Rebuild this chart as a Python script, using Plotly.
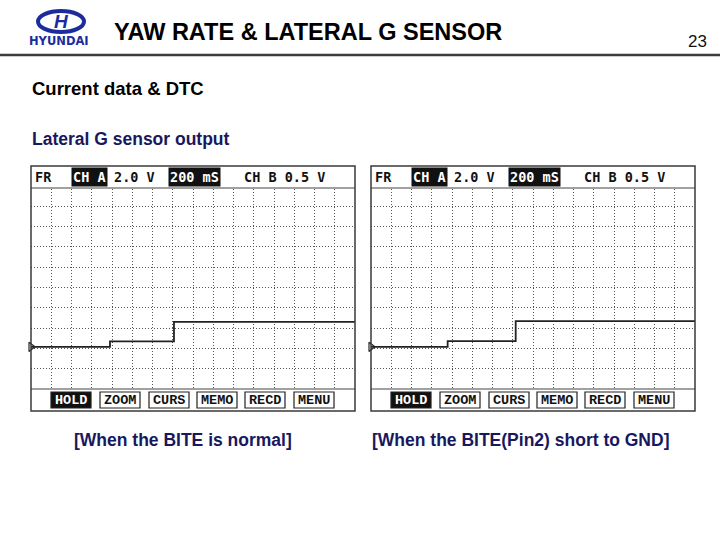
import plotly.graph_objects as go

W, H = 720, 540

# ---------------- data ----------------
# time in ms (200 mS/div, 16 div), voltage in V (2.0 V/div) relative to the channel-zero marker
normal_t = [0, 780, 1412, 3200]
normal_v = [0.0, 0.53, 2.46, 2.46]
short_t = [0, 757, 1429, 3200]
short_v = [0.0, 0.55, 2.52, 2.52]
captions = ["[When the BITE is normal]", "[When the BITE(Pin2) short to GND]"]
buttons = ["HOLD", "ZOOM", "CURS", "MEMO", "RECD", "MENU"]
header_items = [("FR", False), ("CH A", True), ("2.0 V", False), ("200 mS", True), ("CH B 0.5 V", False)]

NAVY = "#18185e"
LOGO = "#1c2c9c"


def px(x):
    return x / W


def py(y):
    return 1 - y / H


fig = go.Figure()

panels = [
    dict(x0=31, t=normal_t, v=normal_v, cap=captions[0], capx=182.5),
    dict(x0=371, t=short_t, v=short_v, cap=captions[1], capx=520),
]

shapes = []
annotations = []

GRID_TOP, GRID_BOT = 186, 389
for i, p in enumerate(panels):
    x0 = p["x0"]
    x1 = x0 + 324
    xa = "x" if i == 0 else "x2"
    ya = "y" if i == 0 else "y2"
    fig.add_trace(go.Scatter(
        x=p["t"], y=p["v"], mode="lines", line=dict(color="#222", width=1.8, shape="hv"),
        xaxis=xa, yaxis=ya, showlegend=False, hoverinfo="skip"))
    fig.add_trace(go.Scatter(
        x=[p["t"][0]], y=[p["v"][0]], mode="markers",
        marker=dict(symbol="triangle-right-open", size=8, color="#262626", line=dict(width=1.2)),
        xaxis=xa, yaxis=ya, showlegend=False, hoverinfo="skip", cliponaxis=False))
    axkw = dict(showticklabels=False, ticks="", zeroline=False, showline=False,
                showgrid=True, gridcolor="#555555", gridwidth=1, griddash="1px,2px", fixedrange=True)
    fig.update_layout(**{
        ("xaxis" if i == 0 else "xaxis2"): dict(domain=[px(x0), px(x1)], range=[0, 3200], tickmode="linear",
                                                tick0=0, dtick=200, anchor=ya, **axkw),
        ("yaxis" if i == 0 else "yaxis2"): dict(domain=[py(GRID_BOT), py(GRID_TOP)], range=[-4.16, 15.84],
                                                tickmode="linear", tick0=-0.16, dtick=2, anchor=xa, **axkw),
    })
    # header band (white, covers top of grid)
    shapes.append(dict(type="rect", xref="paper", yref="paper", x0=px(x0), x1=px(x1), y0=py(188), y1=py(166),
                       fillcolor="white", line=dict(width=0), layer="above"))
    shapes.append(dict(type="line", xref="paper", yref="paper", x0=px(x0), x1=px(x1), y0=py(188), y1=py(188),
                       line=dict(color="#444", width=1.2), layer="above"))
    # footer band
    shapes.append(dict(type="rect", xref="paper", yref="paper", x0=px(x0), x1=px(x1), y0=py(411), y1=py(389),
                       fillcolor="white", line=dict(width=0), layer="above"))
    shapes.append(dict(type="line", xref="paper", yref="paper", x0=px(x0), x1=px(x1), y0=py(389), y1=py(389),
                       line=dict(color="#444", width=1.2), layer="above"))
    # outer border
    shapes.append(dict(type="rect", xref="paper", yref="paper", x0=px(x0), x1=px(x1), y0=py(411), y1=py(166),
                       line=dict(color="#3a3a3a", width=1.5), layer="above"))
    # header texts
    hx = [33, 71, 112, 168, 242]
    for (txt, inv), xx in zip(header_items, hx):
        annotations.append(dict(text=txt, x=px(x0 - 31 + xx), y=py(177), xref="paper", yref="paper",
                                xanchor="left", yanchor="middle", showarrow=False,
                                font=dict(family="DejaVu Sans Mono", size=13.5, color="white" if inv else "#111",
                                          weight="bold"),
                                bgcolor="#111" if inv else None, borderpad=1))
    # buttons
    bx = [51, 100, 149, 197, 245, 294]
    for j, (b, bl) in enumerate(zip(buttons, bx)):
        bl2 = x0 - 31 + bl
        inv = j == 0
        shapes.append(dict(type="rect", xref="paper", yref="paper", x0=px(bl2), x1=px(bl2 + 40),
                           y0=py(408), y1=py(392), fillcolor="#111" if inv else "white",
                           line=dict(color="#222", width=1.2), layer="above"))
        annotations.append(dict(text=b, x=px(bl2 + 20), y=py(400), xref="paper", yref="paper",
                                xanchor="center", yanchor="middle", showarrow=False,
                                font=dict(family="Liberation Mono", size=13.5, color="white" if inv else "#111",
                                          weight="bold")))
    # caption
    annotations.append(dict(text=p["cap"], x=px(p["capx"]), y=py(440), xref="paper", yref="paper",
                            xanchor="center", yanchor="middle", showarrow=False,
                            font=dict(family="Liberation Sans", size=17.5, color=NAVY, weight="bold")))

# page header
shapes.append(dict(type="line", xref="paper", yref="paper", x0=0, x1=1, y0=py(55), y1=py(55),
                   line=dict(color="#3c3c3c", width=2.5)))
shapes.append(dict(type="circle", xref="paper", yref="paper", x0=px(38), x1=px(84), y0=py(32), y1=py(11),
                   line=dict(color=LOGO, width=4), fillcolor="white"))
annotations += [
    dict(text="<i><b>H</b></i>", x=px(61), y=py(21.5), xref="paper", yref="paper", showarrow=False,
         xanchor="center", yanchor="middle", font=dict(family="Liberation Sans", size=19, color=LOGO)),
    dict(text="HYUNDAI", x=px(58.5), y=py(41.5), xref="paper", yref="paper", showarrow=False,
         xanchor="center", yanchor="middle", font=dict(family="DejaVu Sans", size=11.5, color=LOGO, weight="bold")),
    dict(text="YAW RATE & LATERAL G SENSOR", x=px(112), y=py(32), xref="paper", yref="paper", showarrow=False,
         xanchor="left", yanchor="middle", font=dict(family="Liberation Sans", size=23.5, color="#000", weight="bold")),
    dict(text="23", x=px(709), y=py(42), xref="paper", yref="paper", showarrow=False,
         xanchor="right", yanchor="middle", font=dict(family="Liberation Sans", size=17, color="#111")),
    dict(text="Current data & DTC", x=px(30), y=py(88), xref="paper", yref="paper", showarrow=False,
         xanchor="left", yanchor="middle", font=dict(family="Liberation Sans", size=18.5, color="#000", weight="bold")),
    dict(text="Lateral G sensor output", x=px(30), y=py(139), xref="paper", yref="paper", showarrow=False,
         xanchor="left", yanchor="middle", font=dict(family="Liberation Sans", size=17.5, color=NAVY, weight="bold")),
]

fig.update_layout(width=W, height=H, margin=dict(l=0, r=0, t=0, b=0), paper_bgcolor="white",
                  plot_bgcolor="white", shapes=shapes, annotations=annotations, showlegend=False)

fig.write_html("out.html", config={"displayModeBar": False})
